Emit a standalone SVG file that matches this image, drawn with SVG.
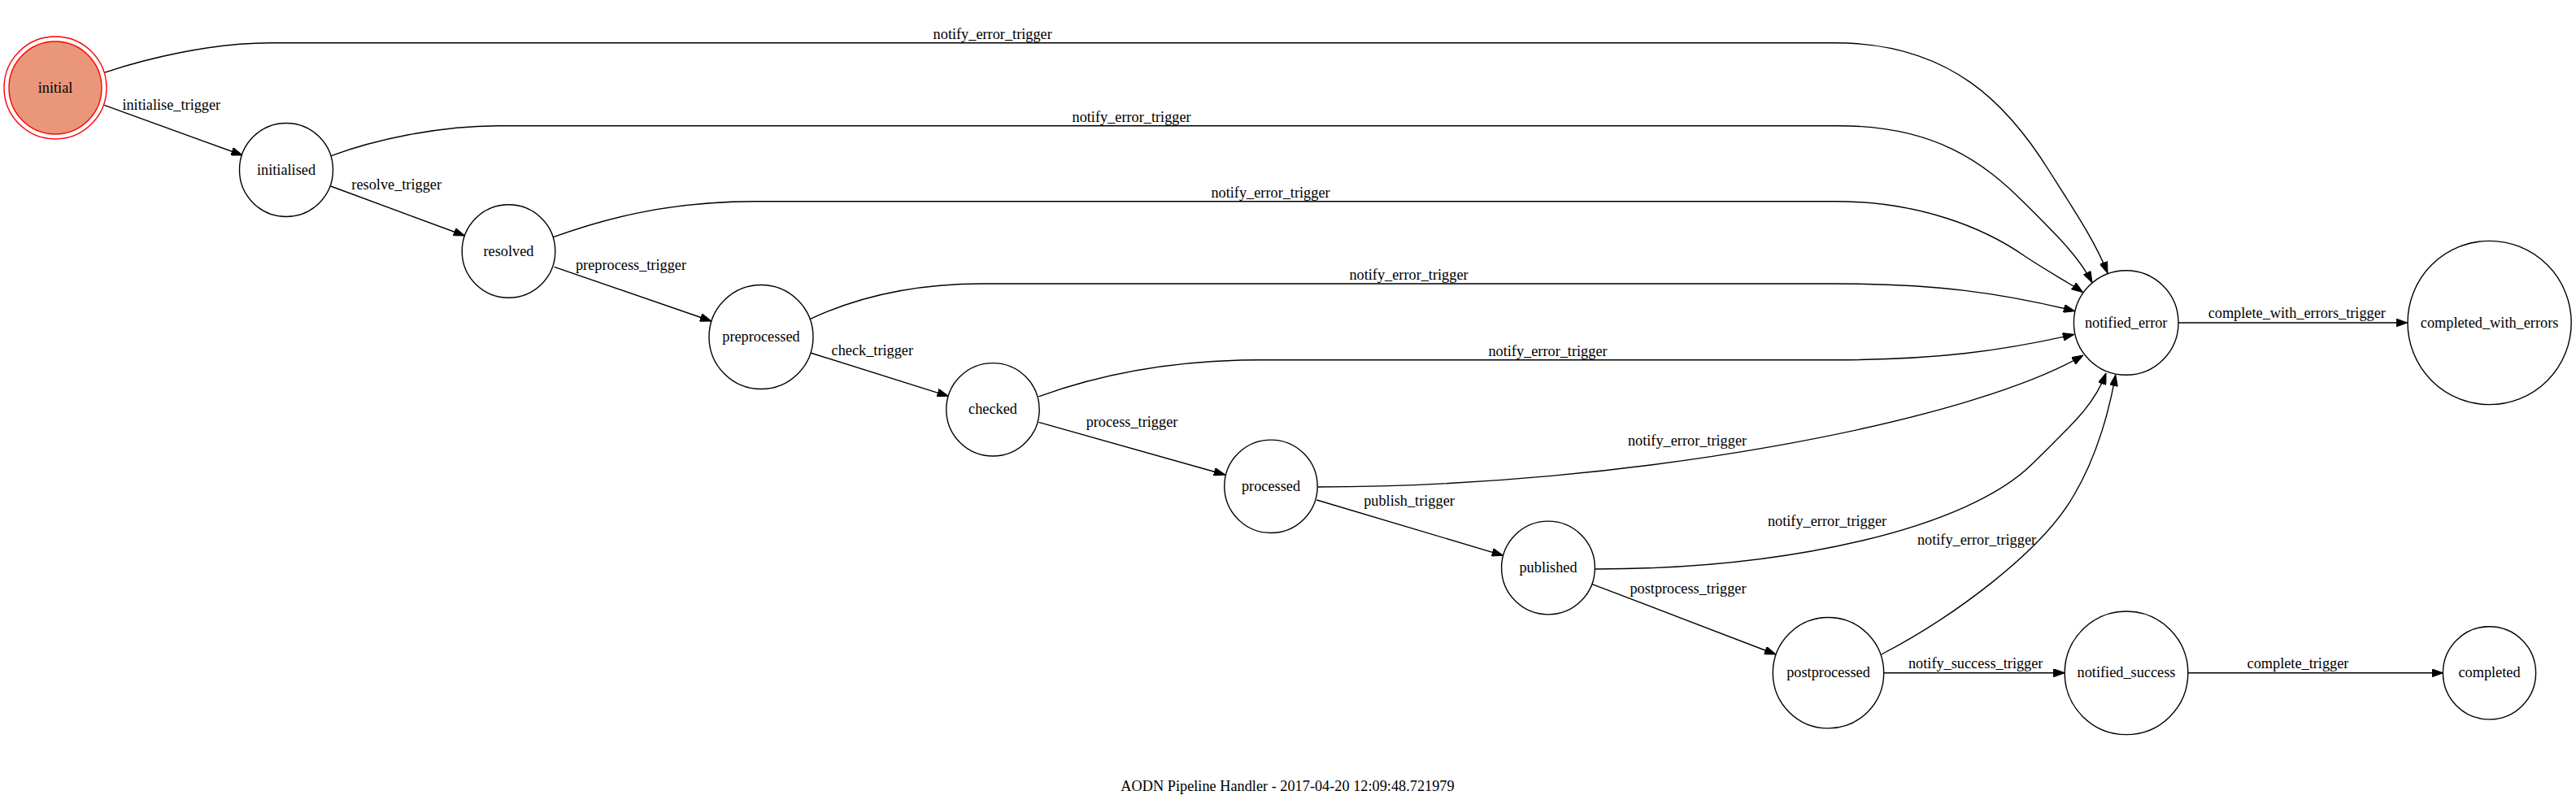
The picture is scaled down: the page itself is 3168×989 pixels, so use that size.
<svg xmlns="http://www.w3.org/2000/svg" width="3168" height="989" viewBox="0 0 3168 989">
<defs>
<style>
.node ellipse, .node circle { fill: #ffffff; stroke: #000000; stroke-width: 1.4; }
.lbl { font-family: "Liberation Serif", "Times New Roman", serif; font-size: 18.3px; fill: #000000; text-anchor: middle; }
.edges path, .edges line { fill: none; stroke: #000000; stroke-width: 1.4; marker-end: url(#arrow); }
</style>
<marker id="arrow" markerUnits="userSpaceOnUse" viewBox="0 0 14 10" refX="14" refY="5" markerWidth="14" markerHeight="10" orient="auto">
<path d="M0,0 L14,5 L0,10 Z" fill="#000000" stroke="#000000" stroke-width="1"/>
</marker>
</defs>
<rect x="0" y="0" width="3168" height="989" fill="#ffffff"/>

<g id="edges" class="edges">
<line x1="128.3" y1="129.3" x2="298.3" y2="191"/>
<line x1="406.7" y1="229" x2="571.7" y2="290"/>
<line x1="681.6" y1="328.3" x2="874.9" y2="395"/>
<line x1="996.7" y1="434" x2="1166.4" y2="487.3"/>
<line x1="1277.3" y1="519.3" x2="1506.7" y2="584"/>
<line x1="1619.3" y1="615" x2="1848.6" y2="683.3"/>
<line x1="1957.4" y1="718.3" x2="2184" y2="805"/>
<line x1="2316.6" y1="827.7" x2="2539.4" y2="827.7"/>
<line x1="2690.6" y1="827.8" x2="3004.6" y2="827.8"/>
<line x1="2679.1" y1="397" x2="2960.7" y2="397"/>
<path d="M128.3,89.3 C180,72 260,52.7 333,52.7 L2257,52.7 C2400,52.7 2470,130 2520,210 C2555,265 2578,300 2592,336"/>
<path d="M407.4,191.7 C460,172 540,154.7 612,154.7 L2261,154.7 C2380,154.7 2440,200 2490,250 C2530,290 2556,315 2573,347.6"/>
<path d="M680.4,291.7 C740,270 820,247.7 929,247.7 L2257,247.7 C2360,247.7 2440,280 2490,315 C2520,335 2545,348 2561.6,359.7"/>
<path d="M996.7,392.3 C1040,372 1110,349 1208,349 L2257,349 C2380,349 2460,360 2551.8,382.7"/>
<path d="M1277.3,487.8 C1340,465 1430,442.7 1550,442.7 L2257,442.7 C2380,442.7 2460,432 2550.8,411.4"/>
<path d="M1620.7,599 C2000,599 2420,520 2562,437"/>
<path d="M1961.6,700 C2200,700 2420,650 2500,570 C2545,525 2575,500 2590,459"/>
<path d="M2313.8,805 C2400,760 2510,680 2550,610 C2580,560 2595,500 2601.8,461"/>
</g>

<g id="edge-labels">
<text class="lbl" x="210.8" y="135">initialise_trigger</text>
<text class="lbl" x="487.7" y="233.3">resolve_trigger</text>
<text class="lbl" x="776" y="331.7">preprocess_trigger</text>
<text class="lbl" x="1072.8" y="437.3">check_trigger</text>
<text class="lbl" x="1392" y="525">process_trigger</text>
<text class="lbl" x="1733" y="622.3">publish_trigger</text>
<text class="lbl" x="2076" y="730">postprocess_trigger</text>
<text class="lbl" x="2429.7" y="821.7">notify_success_trigger</text>
<text class="lbl" x="2826" y="821.7">complete_trigger</text>
<text class="lbl" x="2824.8" y="391.1">complete_with_errors_trigger</text>
<text class="lbl" x="1220.7" y="48">notify_error_trigger</text>
<text class="lbl" x="1391.6" y="150">notify_error_trigger</text>
<text class="lbl" x="1562.5" y="243">notify_error_trigger</text>
<text class="lbl" x="1732.5" y="344">notify_error_trigger</text>
<text class="lbl" x="1903.5" y="437.7">notify_error_trigger</text>
<text class="lbl" x="2075" y="548">notify_error_trigger</text>
<text class="lbl" x="2247" y="646.7">notify_error_trigger</text>
<text class="lbl" x="2431" y="670">notify_error_trigger</text>
</g>

<g id="node-initial" class="node">
<circle cx="68" cy="108" r="63" style="fill:none;stroke:#ff0000"/>
<circle cx="68" cy="108" r="57" style="fill:#e9967a;stroke:#ff0000"/>
<text class="lbl" x="68" y="113.5">initial</text>
</g>
<g id="node-initialised" class="node">
<circle cx="352" cy="209" r="57.5"/>
<text class="lbl" x="352" y="214.5">initialised</text>
</g>
<g id="node-resolved" class="node">
<circle cx="625.5" cy="309" r="57.3"/>
<text class="lbl" x="625.5" y="314.5">resolved</text>
</g>
<g id="node-preprocessed" class="node">
<circle cx="936" cy="414.5" r="64"/>
<text class="lbl" x="936" y="420">preprocessed</text>
</g>
<g id="node-checked" class="node">
<circle cx="1221" cy="503.8" r="57.2"/>
<text class="lbl" x="1221" y="509.3">checked</text>
</g>
<g id="node-processed" class="node">
<circle cx="1563" cy="598.3" r="57.2"/>
<text class="lbl" x="1563" y="603.8">processed</text>
</g>
<g id="node-published" class="node">
<circle cx="1904" cy="698.5" r="57.4"/>
<text class="lbl" x="1904" y="704">published</text>
</g>
<g id="node-postprocessed" class="node">
<circle cx="2248.5" cy="827.7" r="68.2"/>
<text class="lbl" x="2248.5" y="833.2">postprocessed</text>
</g>
<g id="node-notified_success" class="node">
<circle cx="2615" cy="827.8" r="75.8"/>
<text class="lbl" x="2615" y="833.3">notified_success</text>
</g>
<g id="node-completed" class="node">
<circle cx="3061.5" cy="827.8" r="57.1"/>
<text class="lbl" x="3061.5" y="833.3">completed</text>
</g>
<g id="node-notified_error" class="node">
<circle cx="2614.7" cy="397" r="64.3"/>
<text class="lbl" x="2614.7" y="402.5">notified_error</text>
</g>
<g id="node-completed_with_errors" class="node">
<circle cx="3061.6" cy="397" r="100.6"/>
<text class="lbl" x="3061.6" y="402.5">completed_with_errors</text>
</g>

<g id="title">
<text class="lbl" x="1583.5" y="972.7">AODN Pipeline Handler - 2017-04-20 12:09:48.721979</text>
</g>
</svg>
